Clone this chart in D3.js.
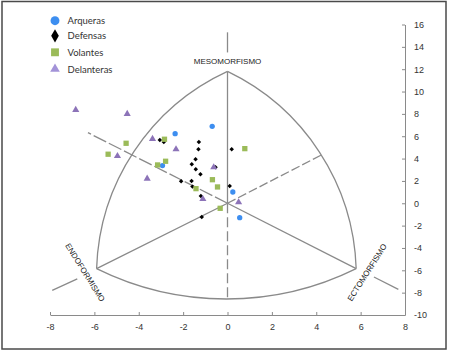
<!DOCTYPE html>
<html>
<head>
<meta charset="utf-8">
<script src="https://cdn.jsdelivr.net/npm/d3@7"></script>
<style>
  body { margin: 0; background: #fff; }
  svg { display: block; }
  .axis path, .axis line { stroke: #8a8a8a; }
  .axis text { font-family: "Liberation Sans", Arial, sans-serif; font-size: 9px; fill: #333; }
</style>
</head>
<body>
<svg id="chart" width="449" height="352"></svg>
<script>
// Series (x = ecto - endo, y = 2*meso - (endo + ecto))
const seriesNames = ["Arqueras", "Defensas", "Volantes", "Delanteras"];
const arqueras = [[-2.36, 6.23], [-0.69, 6.89], [-2.93, 3.37], [0.24, 1.01], [0.55, -1.29]];
const defensas = [[-3.05, 5.67], [-2.87, 5.49], [-1.29, 5.49], [-1.31, 4.83], [-1.44, 3.94],
                  [-1.61, 3.49], [-1.43, 3.04], [-1.22, 2.6], [-2.09, 1.97], [-1.62, 2.0],
                  [-1.58, 1.49], [-1.2, 0.65], [-1.16, -1.23], [0.19, 4.83], [0.1, 1.55], [-0.54, 3.22]];
const volantes = [[-4.57, 5.37], [-5.38, 4.39], [-2.84, 5.73], [-2.79, 3.76], [-3.15, 3.43],
                  [-0.68, 2.11], [-0.45, 1.46], [-1.42, 1.31], [-0.33, -0.45], [0.78, 4.89]];
const delanteras = [[-6.84, 8.35], [-4.52, 8.0], [-3.38, 5.76], [-2.32, 4.83], [-4.96, 4.23],
                    [-3.62, 2.2], [-0.62, 3.22], [-1.11, 0.38], [0.5, 0.09]];

const xTicks = [-8, -6, -4, -2, 0, 2, 4, 6, 8];
const yTicks = [-10, -8, -6, -4, -2, 0, 2, 4, 6, 8, 10, 12, 14, 16];

// Somatochart frame
const origin = [0, 0];
const vertexMeso = [0, 11.8];
const vertexEndo = [-5.9, -5.85];
const vertexEcto = [5.8, -5.85];
const arcLeftPoint = [-4.33, 4.28];
const arcRightPoint = [4.23, 4.32];
const arcBottomPoint = [0, -8.57];
const dashUpLeftEnd = [-6.29, 6.32];
const extensions = [[[-6.77, -6.77], [-7.9, -7.8]], [[6.6, -6.6], [7.7, -7.7]], [[0, 13.5], [0, 15.3]]];
const labels = [
  {text: "MESOMORFISMO", pos: [0, 12.7], angle: 0},
  {text: "ENDOFORMISMO", pos: [-6.43, -6.2], angle: 58},
  {text: "ECTOMORFISMO", pos: [6.3, -6.2], angle: -57.5}
];

const svg = d3.select("#chart");

// frame border
svg.append("rect")
  .attr("x", 2).attr("y", 1.5).attr("width", 444).attr("height", 347.5)
  .attr("fill", "none").attr("stroke", "#4a4a4a").attr("stroke-width", 1.5);

const x = d3.scaleLinear().domain([-8, 8]).range([50, 405]);
const y = d3.scaleLinear().domain([-10, 16]).range([315, 24.5]);
const P = d => [x(d[0]), y(d[1])];

// axes
svg.append("g")
  .attr("class", "axis")
  .attr("transform", `translate(0,${y(-10)})`)
  .call(d3.axisBottom(x).tickValues(xTicks).tickSize(-3).tickSizeOuter(0).tickPadding(9).tickFormat(d => String(d)));

svg.append("g")
  .attr("class", "axis")
  .attr("transform", `translate(${x(8)},0)`)
  .call(d3.axisRight(y).tickValues(yTicks).tickSize(-3).tickSizeOuter(0).tickPadding(9).tickFormat(d => String(d)))
  .selectAll("text").attr("text-anchor", "start");

// arcs through three points
function arcPath(a, m, b) {
  const [x1, y1] = P(a), [x2, y2] = P(m), [x3, y3] = P(b);
  const d = 2 * (x1 * (y2 - y3) + x2 * (y3 - y1) + x3 * (y1 - y2));
  const ux = ((x1*x1 + y1*y1) * (y2 - y3) + (x2*x2 + y2*y2) * (y3 - y1) + (x3*x3 + y3*y3) * (y1 - y2)) / d;
  const uy = ((x1*x1 + y1*y1) * (x3 - x2) + (x2*x2 + y2*y2) * (x1 - x3) + (x3*x3 + y3*y3) * (x2 - x1)) / d;
  const r = Math.hypot(x1 - ux, y1 - uy);
  const cross = (x3 - x1) * (y2 - y1) - (y3 - y1) * (x2 - x1);
  const sweep = cross > 0 ? 0 : 1;
  return `M${x1},${y1} A${r},${r} 0 0 ${sweep} ${x3},${y3}`;
}

const frame = svg.append("g")
  .attr("fill", "none")
  .attr("stroke", "#8a8a8a")
  .attr("stroke-width", 1.3);

frame.append("path").attr("d", arcPath(vertexMeso, arcLeftPoint, vertexEndo));
frame.append("path").attr("d", arcPath(vertexMeso, arcRightPoint, vertexEcto));
frame.append("path").attr("d", arcPath(vertexEndo, arcBottomPoint, vertexEcto));

const line = d3.line().x(d => x(d[0])).y(d => y(d[1]));

// solid spokes
[vertexMeso, vertexEndo, vertexEcto].forEach(v => {
  frame.append("path").attr("d", line([v, origin]));
});
// dashed spokes
frame.append("path").attr("d", line([origin, arcBottomPoint])).attr("stroke-dasharray", "10,4");
frame.append("path").attr("d", line([origin, arcRightPoint])).attr("stroke-dasharray", "9,3");
frame.append("path").attr("d", line([origin, dashUpLeftEnd])).attr("stroke-dasharray", "14,3");
// extensions beyond vertices
extensions.forEach(seg => frame.append("path").attr("d", line(seg)));

// labels
labels.forEach(l => {
  svg.append("text")
    .attr("transform", `translate(${x(l.pos[0])},${y(l.pos[1])}) rotate(${l.angle})`)
    .attr("text-anchor", "middle")
    .attr("dominant-baseline", "central")
    .style("font-family", "'Liberation Sans', Arial, sans-serif")
    .style("font-size", "8px")
    .attr("fill", "#222")
    .text(l.text);
});

// points
const series = [
  {data: arqueras, symbol: d3.symbolCircle, color: "#3d8ef0", size: 22, legendSize: 62, rot: 0},
  {data: defensas, symbol: d3.symbolSquare, color: "#000", size: 10, legendSize: 50, rot: 45},
  {data: volantes, symbol: d3.symbolSquare, color: "#9bbb59", size: 28, legendSize: 62, rot: 0},
  {data: delanteras, symbol: d3.symbolTriangle, color: "#8c73b8", size: 22, legendSize: 40, rot: 0}
];

series.forEach(s => {
  svg.append("g").selectAll("path")
    .data(s.data)
    .enter().append("path")
    .attr("d", d3.symbol().type(s.symbol).size(s.size))
    .attr("transform", d => `translate(${x(d[0])},${y(d[1])}) rotate(${s.rot})`)
    .attr("fill", s.color);
});

// legend
const legendY = [20.7, 35.8, 52.3, 69];
const legend = svg.append("g");
series.forEach((s, i) => {
  legend.append("path")
    .attr("d", d3.symbol().type(i === 1 ? d3.symbolDiamond : s.symbol).size(s.legendSize))
    .attr("transform", `translate(55,${legendY[i]})`)
    .attr("fill", s.symbol === d3.symbolTriangle ? "#a393d8" : s.color);
  legend.append("text")
    .attr("x", 67.5)
    .attr("y", legendY[i])
    .attr("dominant-baseline", "central")
    .style("font-family", "Lato, 'Liberation Sans', sans-serif")
    .style("font-size", "9.5px")
    .attr("fill", "#333")
    .text(seriesNames[i]);
});
</script>
</body>
</html>
